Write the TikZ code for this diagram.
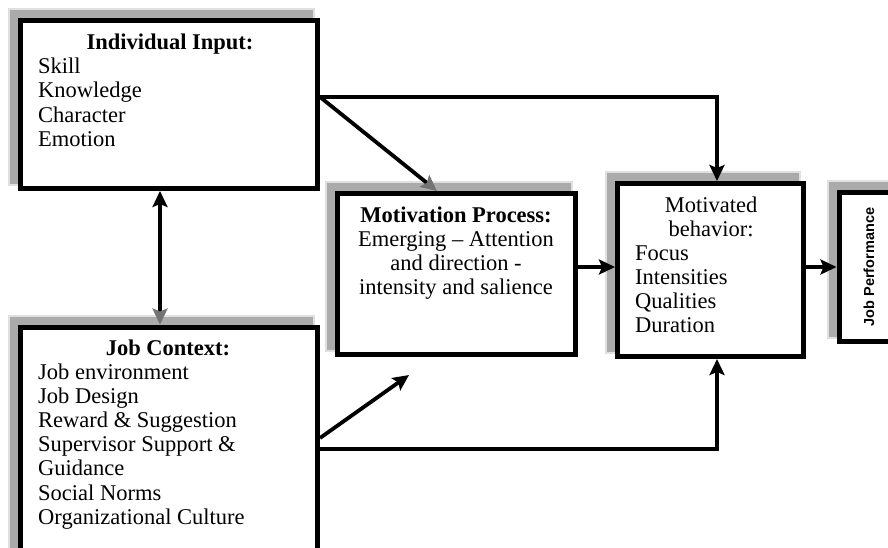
\documentclass[tikz,border=0pt]{standalone}
\usepackage{fontspec}
\setmainfont{Liberation Serif}
\newfontfamily\jpsans{Liberation Sans}
\usetikzlibrary{arrows.meta,calc}
\begin{document}
\begin{tikzpicture}[x=1pt,y=-1pt,
  box/.style={draw, line width=5pt, fill=white, inner sep=0pt, rectangle},
  shadowbox/.style={fill=black!33},
  halo/.style={fill=black!12},
  conn/.style={line width=3.8pt},
  tipb/.style={-{Stealth[length=16pt,width=15pt,inset=3pt]}},
  tipg/.style={-{Stealth[length=16pt,width=15pt,inset=3pt,color=black!55]}},
  txt/.style={inner sep=0pt, font=\fontsize{22.5}{26}\selectfont},
  item/.style={txt, anchor=base west},
  head/.style={txt, anchor=base},
  bhead/.style={txt, anchor=base, font=\fontsize{22.5}{26}\selectfont\bfseries}]
\useasboundingbox (0,0) rectangle (888,547);

% shadows
\fill[halo] (8,8) rectangle (315,186);
\fill[shadowbox] (10,10) rectangle (313,184);
\fill[halo] (8,315) rectangle (315,560);
\fill[shadowbox] (10,317) rectangle (313,560);
\fill[halo] (325,181) rectangle (573,352);
\fill[shadowbox] (327,183) rectangle (571,350);
\fill[halo] (605,171) rectangle (801,354);
\fill[shadowbox] (607,173) rectangle (799,352);
\fill[halo] (827,180) rectangle (897,339);
\fill[shadowbox] (829,182) rectangle (895,337);

% boxes
\node[box, minimum width=297pt, minimum height=168pt] (b1) at (169,104.5) {};
\node[box, minimum width=297pt, minimum height=233pt] (b2) at (169,443.5) {};
\node[box, minimum width=238pt, minimum height=161pt] (mp) at (456.5,274) {};
\node[box, minimum width=186pt, minimum height=173pt] (mb) at (710.5,270) {};
\node[box, minimum width=61pt, minimum height=149pt] (jp) at (869.5,267) {};

% helper coordinates
\coordinate (x160) at (160,0);
\coordinate (x437) at (437,0);
\coordinate (x717) at (717,0);
\coordinate (y97) at (0,97);
\coordinate (y438) at (0,438);
\coordinate (y449) at (0,449);
\coordinate (y267) at (0,267);
\coordinate (fr) at (409,375);

% texts
\node[bhead] (b1h) at (170,49) {Individual Input:};
\foreach \t [count=\i] in {Skill,Knowledge,Character,Emotion}
  \node[item] (b1t\i) at (38,{73+24.5*(\i-1)}) {\t};

\node[bhead] (b2h) at (168,355) {Job Context:};
\foreach \t [count=\i] in {Job environment,Job Design,Reward \& Suggestion,Supervisor Support \&,Guidance,Social Norms,Organizational Culture}
  \node[item] (b2t\i) at (38,{379+24.2*(\i-1)}) {\t};

\node[bhead] (mph) at (456,222) {Motivation Process:};
\node[head] (mp1) at (456,246) {Emerging – Attention};
\node[head] (mp2) at (456,270) {and direction -};
\node[head] (mp3) at (456,294) {intensity and salience};

\node[head] (mbh1) at (711,212) {Motivated};
\node[head] (mbh2) at (711,236) {behavior:};
\foreach \t [count=\i] in {Focus,Intensities,Qualities,Duration}
  \node[item] (mbt\i) at (635,{260+24.3*(\i-1)}) {\t};

\node[rotate=90, inner sep=0pt, font=\jpsans\bfseries\fontsize{14.5}{17}\selectfont] (jpt) at (869,267) {Job Performance};

% connectors
\draw[conn, {Stealth[length=16pt,width=15pt,inset=3pt]}-{Stealth[length=16pt,width=15pt,inset=3pt,color=black!55]}]
  (b1.south -| x160) -- (b2.north -| x160);
\draw[conn, tipb] (b1.east |- y97) -| (mb.north -| x717);
\draw[conn, tipg] (b1.east |- y97) -- (mp.north -| x437);
\draw[conn, tipb] (b2.east |- y438) -- (fr);
\draw[conn, tipb] (b2.east |- y449) -| (mb.south -| x717);
\draw[conn, tipb] (mp.east |- y267) -- (mb.west |- y267);
\draw[conn, tipb] (mb.east |- y267) -- (jp.west |- y267);
\end{tikzpicture}
\end{document}
